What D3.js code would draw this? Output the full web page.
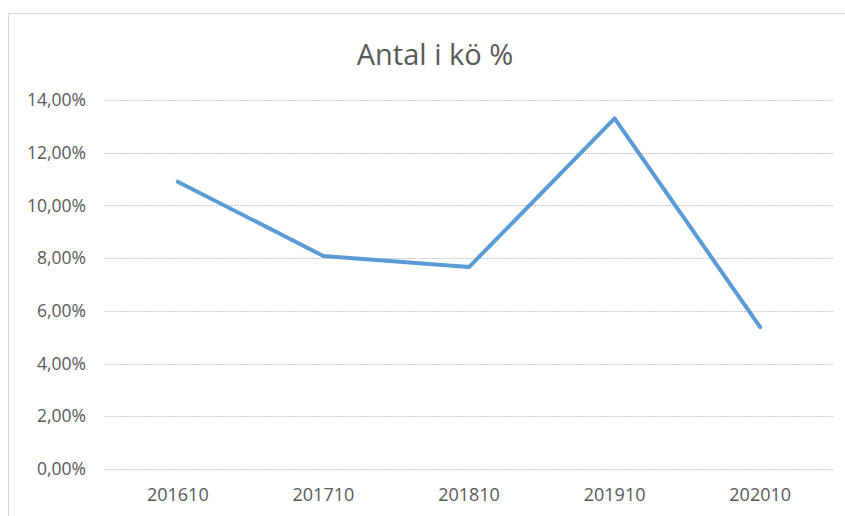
<!DOCTYPE html>
<html>
<head>
<meta charset="utf-8">
<script src="https://cdn.jsdelivr.net/npm/d3@7"></script>
<style>
  body { margin: 0; background: #fff; }
  svg { display: block; font-family: "Open Sans", "Liberation Sans", sans-serif; }
</style>
</head>
<body>
<svg id="chart"></svg>
<script>
// data
let title = 'Antal i kö %'
let categories = ['201610', '201710', '201810', '201910', '202010']
let values = [10.9, 8.08, 7.66, 13.3, 5.38]
let yTicks = [0, 2, 4, 6, 8, 10, 12, 14]

// canvas
let width = 845
let height = 516
let plotLeft = 105
let plotRight = 833
let plotTop = 100
let plotBottom = 469

let svg = d3.select('#chart')
    .attr('width', width)
    .attr('height', height)

// chart border (Excel frame)
svg.append('rect')
    .attr('x', 8.5)
    .attr('y', 13.5)
    .attr('width', width)
    .attr('height', height)
    .attr('fill', 'none')
    .attr('stroke', '#d9d9d9')

let xScale = d3.scaleBand()
    .domain(categories)
    .range([plotLeft, plotRight])

let yScale = d3.scaleLinear()
    .domain([0, 14])
    .range([plotBottom, plotTop])

// gridlines
svg.append('g')
    .selectAll('line')
    .data(yTicks)
    .enter()
    .append('line')
    .attr('x1', plotLeft)
    .attr('x2', plotRight)
    .attr('y1', d => Math.round(yScale(d)) + 0.5)
    .attr('y2', d => Math.round(yScale(d)) + 0.5)
    .attr('stroke', '#c8c8c8')
    .attr('stroke-dasharray', '2,1')

// y axis labels
let yAxis = d3.axisLeft(yScale)
    .tickValues(yTicks)
    .tickSize(0)
    .tickPadding(0)
    .tickFormat(d => d3.format('.2f')(d).replace('.', ',') + '%')

svg.append('g')
    .attr('transform', 'translate(' + (plotLeft - 19) + ',0)')
    .call(yAxis)
    .call(g => g.select('.domain').remove())
    .selectAll('text')
    .attr('fill', '#595959')
    .attr('font-size', '17.5px')
    .attr('font-family', '"Open Sans", "Liberation Sans", sans-serif')

// x axis labels
let xAxis = d3.axisBottom(xScale)
    .tickSize(0)
    .tickPadding(19)

svg.append('g')
    .attr('transform', 'translate(0,' + plotBottom + ')')
    .call(xAxis)
    .call(g => g.select('.domain').remove())
    .selectAll('text')
    .attr('fill', '#595959')
    .attr('font-size', '18px')
    .attr('font-family', '"Open Sans", "Liberation Sans", sans-serif')

// line
let line = d3.line()
    .x((d, i) => xScale(categories[i]) + xScale.bandwidth() / 2)
    .y(d => yScale(d))

svg.append('path')
    .datum(values)
    .attr('d', line)
    .attr('fill', 'none')
    .attr('stroke', '#5b9bd5')
    .attr('stroke-width', 4)
    .attr('stroke-linejoin', 'round')
    .attr('stroke-linecap', 'round')

// title
svg.append('text')
    .attr('x', 435)
    .attr('y', 65)
    .attr('text-anchor', 'middle')
    .attr('fill', '#595959')
    .attr('font-size', '29px')
    .text(title)
</script>
</body>
</html>
